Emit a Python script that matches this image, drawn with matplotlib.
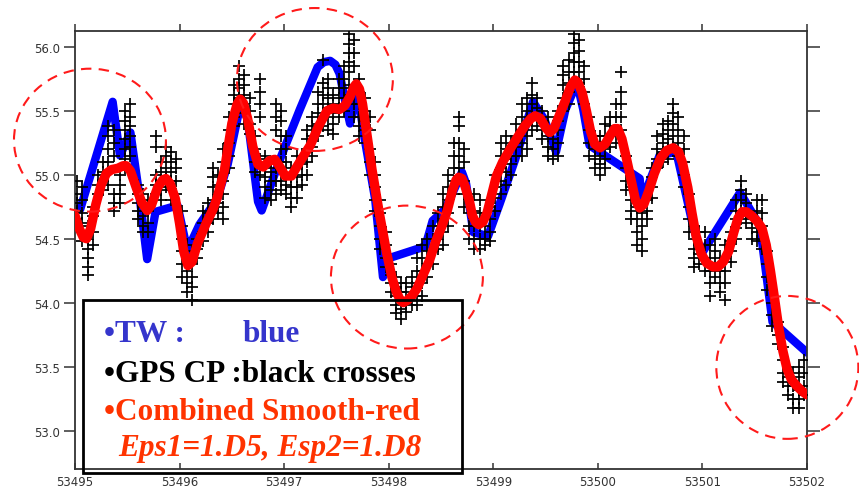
import numpy as np
import matplotlib.pyplot as plt
from matplotlib.patches import Ellipse, Rectangle

# TW series (blue)
tw_x = [53495.05, 53495.36, 53495.43, 53495.53, 53495.62, 53495.69, 53495.77, 53495.94,
        53495.98, 53496.05, 53496.07, 53496.19, 53496.36, 53496.46, 53496.58, 53496.65,
        53496.75, 53496.785, 53496.96, 53497.15, 53497.32, 53497.38, 53497.44, 53497.49,
        53497.53, 53497.58, 53497.63, 53497.70, 53497.77, 53497.87, 53497.945, 53498.01,
        53498.35, 53498.42, 53498.54, 53498.70, 53498.74, 53498.81, 53498.95, 53499.06,
        53499.21, 53499.38, 53499.49, 53499.60, 53499.69, 53499.80, 53499.86, 53499.92,
        53500.40, 53500.42, 53500.59, 53500.75, 53500.91, 53500.99, 53501.36, 53501.55,
        53501.67, 53502.0]
tw_y = [54.73, 55.57, 55.15, 55.33, 54.81, 54.34, 54.71, 54.75,
        54.76, 54.50, 54.40, 54.61, 54.81, 55.08, 55.54, 55.44,
        54.79, 54.72, 55.12, 55.51, 55.84, 55.88, 55.89, 55.86,
        55.79, 55.59, 55.40, 55.65, 55.28, 54.81, 54.20, 54.35,
        54.44, 54.64, 54.73, 55.02, 54.93, 54.55, 54.52, 54.77,
        55.12, 55.57, 55.43, 55.18, 55.51, 55.72, 55.51, 55.23,
        54.97, 54.79, 55.15, 55.18, 54.60, 54.38, 54.86, 54.60,
        53.85, 53.61]

# combined smooth (red)
cs_x = [53495.00, 53495.04, 53495.08, 53495.11, 53495.15, 53495.20, 53495.25, 53495.30,
        53495.35, 53495.41, 53495.46, 53495.49, 53495.53, 53495.59, 53495.64, 53495.69,
        53495.73, 53495.79, 53495.84, 53495.87, 53495.91, 53495.96, 53496.00, 53496.04,
        53496.08, 53496.12, 53496.17, 53496.26, 53496.32, 53496.36, 53496.43, 53496.50,
        53496.55, 53496.58, 53496.61, 53496.65, 53496.70, 53496.75, 53496.80, 53496.86,
        53496.91, 53496.96, 53497.01, 53497.07, 53497.12, 53497.18, 53497.25, 53497.33,
        53497.41, 53497.47, 53497.53, 53497.58, 53497.63, 53497.67, 53497.69, 53497.72,
        53497.75, 53497.80, 53497.84, 53497.91, 53497.98, 53498.03, 53498.07, 53498.11,
        53498.14, 53498.18, 53498.22, 53498.27, 53498.33, 53498.39, 53498.45, 53498.51,
        53498.56, 53498.61, 53498.645, 53498.67, 53498.70, 53498.73, 53498.77, 53498.80,
        53498.83, 53498.86, 53498.90, 53498.94, 53498.98, 53499.03, 53499.09, 53499.16,
        53499.23, 53499.30, 53499.36, 53499.40, 53499.45, 53499.50, 53499.54, 53499.58,
        53499.63, 53499.69, 53499.74, 53499.78, 53499.81, 53499.85, 53499.89, 53499.93,
        53499.97, 53500.02, 53500.07, 53500.12, 53500.16, 53500.19, 53500.23, 53500.27,
        53500.32, 53500.36, 53500.40, 53500.44, 53500.49, 53500.54, 53500.60, 53500.66,
        53500.72, 53500.77, 53500.81, 53500.86, 53500.90, 53500.94, 53500.99, 53501.04,
        53501.10, 53501.15, 53501.20, 53501.25, 53501.30, 53501.34, 53501.38, 53501.42,
        53501.47, 53501.52, 53501.57, 53501.61, 53501.65, 53501.69, 53501.73, 53501.77,
        53501.81, 53501.85, 53501.90, 53501.95, 53502.00]
cs_y = [54.68, 54.58, 54.51, 54.50, 54.58, 54.77, 54.92, 55.01,
        55.04, 55.05, 55.07, 55.07, 55.03, 54.89, 54.78, 54.72,
        54.76, 54.90, 54.96, 54.97, 54.93, 54.81, 54.62, 54.40,
        54.29, 54.32, 54.46, 54.63, 54.73, 54.82, 55.04, 55.40,
        55.55, 55.59, 55.56, 55.44, 55.22, 55.08, 55.06, 55.11,
        55.12, 55.06, 54.99, 54.99, 55.06, 55.14, 55.23, 55.38,
        55.50, 55.52, 55.51, 55.54, 55.61, 55.69, 55.71, 55.67,
        55.55, 55.27, 55.04, 54.70, 54.39, 54.20, 54.09, 54.02,
        54.00, 54.02, 54.05, 54.11, 54.22, 54.33, 54.48, 54.60,
        54.72, 54.88, 54.96, 54.98, 54.97, 54.91, 54.80, 54.68,
        54.63, 54.61, 54.63, 54.70, 54.83, 54.99, 55.10, 55.20,
        55.29, 55.38, 55.44, 55.46, 55.44, 55.37, 55.33, 55.36,
        55.46, 55.58, 55.69, 55.74, 55.72, 55.64, 55.50, 55.34,
        55.24, 55.21, 55.24, 55.31, 55.36, 55.36, 55.28, 55.14,
        54.95, 54.80, 54.74, 54.77, 54.88, 55.01, 55.13, 55.19,
        55.21, 55.18, 55.09, 54.90, 54.70, 54.52, 54.38, 54.31,
        54.28, 54.28, 54.32, 54.40, 54.55, 54.66, 54.71, 54.71,
        54.68, 54.64, 54.58, 54.45, 54.25, 54.03, 53.80, 53.62,
        53.48, 53.40, 53.35, 53.31, 53.28]

# GPS CP points (black crosses), grouped by epoch
gps_x = [53495.02, 53495.07, 53495.12, 53495.17, 53495.22, 53495.27, 53495.32, 53495.37,
         53495.43, 53495.48, 53495.53, 53495.60, 53495.65, 53495.70, 53495.77, 53495.82,
         53495.87, 53495.92, 53495.97, 53496.02, 53496.07, 53496.12, 53496.17, 53496.22,
         53496.27, 53496.32, 53496.37, 53496.42, 53496.47, 53496.52, 53496.57, 53496.62,
         53496.67, 53496.72, 53496.77, 53496.82, 53496.87, 53496.92, 53496.97, 53497.02,
         53497.07, 53497.12, 53497.17, 53497.22, 53497.27, 53497.32, 53497.37, 53497.42,
         53497.47, 53497.52, 53497.57, 53497.62, 53497.67, 53497.72, 53497.77, 53497.82,
         53497.87, 53497.92, 53497.97, 53498.02, 53498.07, 53498.12, 53498.17, 53498.22,
         53498.27, 53498.32, 53498.37, 53498.42, 53498.47, 53498.52, 53498.57, 53498.62,
         53498.67, 53498.72, 53498.77, 53498.82, 53498.87, 53498.92, 53498.97, 53499.02,
         53499.07, 53499.12, 53499.17, 53499.22, 53499.27, 53499.32, 53499.37, 53499.42,
         53499.47, 53499.52, 53499.57, 53499.62, 53499.67, 53499.72, 53499.77, 53499.82,
         53499.87, 53499.92, 53499.97, 53500.02, 53500.07, 53500.12, 53500.17, 53500.22,
         53500.27, 53500.32, 53500.37, 53500.42, 53500.47, 53500.52, 53500.57, 53500.62,
         53500.67, 53500.72, 53500.77, 53500.82, 53500.87, 53500.92, 53500.97, 53501.02,
         53501.07, 53501.12, 53501.17, 53501.22, 53501.27, 53501.32, 53501.37, 53501.42,
         53501.47, 53501.52, 53501.57, 53501.62, 53501.67, 53501.72, 53501.77, 53501.82,
         53501.87, 53501.92, 53501.97]
gps_y = [
    [54.95, 54.85, 54.78, 54.72, 54.65, 54.6], [54.9, 54.8, 54.7, 54.62, 54.55, 54.48],
    [54.6, 54.5, 54.42, 54.35, 54.28, 54.22], [54.75, 54.68, 54.55, 54.45],
    [55.0, 54.92, 54.85], [55.1, 55.02, 54.95, 54.88],
    [55.38, 55.3, 55.2, 55.1, 55.02, 54.92], [55.35, 55.25, 55.15, 54.85, 54.78, 54.72],
    [55.0, 54.92, 54.85, 54.78], [55.5, 55.42, 55.35, 55.28, 55.2, 55.12, 55.05],
    [55.55, 55.45, 55.38, 55.3, 55.22, 55.15], [54.92, 54.85, 54.78, 54.72, 54.65],
    [54.85, 54.75, 54.68, 54.6, 54.55], [54.8, 54.72, 54.62, 54.55],
    [55.3, 55.22, 55.0, 54.92, 54.85], [55.1, 55.02, 54.95, 54.88, 54.8],
    [55.22, 55.15, 55.05, 54.98, 54.9], [55.18, 55.1, 55.02, 54.95, 54.88, 54.8],
    [55.12, 55.05, 54.95, 54.85], [54.72, 54.6, 54.5, 54.4, 54.3, 54.2],
    [54.45, 54.35, 54.25, 54.15, 54.08], [54.4, 54.3, 54.2, 54.12, 54.02],
    [54.5, 54.42, 54.35], [54.72, 54.62, 54.55, 54.48],
    [54.78, 54.7, 54.62, 54.55], [55.05, 54.98, 54.9, 54.8, 54.72, 54.65],
    [55.0, 54.92, 54.85, 54.78, 54.7], [55.2, 55.1, 54.95, 54.85, 54.75, 54.65],
    [55.45, 55.35, 55.25, 55.15, 55.05], [55.7, 55.62, 55.55, 55.45, 55.38],
    [55.85, 55.75, 55.68, 55.6, 55.52], [55.78, 55.7, 55.62, 55.55, 55.48, 55.4],
    [55.6, 55.5, 55.4, 55.32], [55.3, 55.2, 55.1, 55.02],
    [55.75, 55.65, 55.55, 55.45, 55.12, 55.0], [55.15, 55.05, 54.98, 54.9, 54.82],
    [55.1, 55.02, 54.95, 54.88, 54.8], [55.55, 55.45, 55.35, 55.05, 54.95, 54.85],
    [55.5, 55.42, 55.3, 55.2, 55.1, 54.95, 54.88], [55.3, 55.2, 55.1, 55.0, 54.92, 54.85],
    [55.05, 54.98, 54.9, 54.82, 54.75], [55.15, 55.05, 54.98, 54.9, 54.82],
    [55.15, 55.08, 55.0, 54.92], [55.35, 55.28, 55.2, 55.1, 55.0],
    [55.45, 55.38, 55.3, 55.22, 55.15], [55.65, 55.55, 55.48, 55.4, 55.3],
    [55.9, 55.72, 55.62, 55.55, 55.45, 55.38], [55.75, 55.68, 55.6, 55.52, 55.45, 55.35],
    [55.62, 55.55, 55.48, 55.4, 55.32], [55.75, 55.68, 55.6, 55.52, 55.45],
    [55.85, 55.75, 55.68, 55.6, 55.5], [56.1, 56.02, 55.95, 55.88, 55.8, 55.7, 55.62],
    [56.05, 55.95, 55.85, 55.65, 55.55, 55.45], [55.75, 55.65, 55.55, 55.45, 55.38, 55.3],
    [55.6, 55.5, 55.42, 55.35, 55.25], [55.45, 55.35, 55.2, 55.1, 55.0],
    [55.1, 55.0, 54.9, 54.8, 54.72], [54.8, 54.7, 54.6, 54.5, 54.42],
    [54.55, 54.45, 54.35, 54.28], [54.3, 54.22, 54.15, 54.08],
    [54.2, 54.12, 54.05, 53.98, 53.92], [54.15, 54.08, 54.02, 53.95, 53.87],
    [54.15, 54.08, 54.0, 53.93], [54.2, 54.12, 54.05, 53.98],
    [54.35, 54.25, 54.15, 54.05, 53.98], [54.45, 54.35, 54.25, 54.15, 54.05],
    [54.5, 54.4, 54.3, 54.2], [54.6, 54.5, 54.4, 54.3],
    [54.7, 54.6, 54.5, 54.42], [54.85, 54.75, 54.65, 54.55, 54.45],
    [55.0, 54.9, 54.8, 54.7, 54.6], [55.25, 55.15, 55.05, 54.95, 54.85],
    [55.45, 55.38, 55.25, 55.15, 55.05], [55.2, 55.1, 54.95, 54.85, 54.75],
    [54.8, 54.7, 54.6, 54.5], [54.85, 54.72, 54.6, 54.5, 54.42],
    [54.8, 54.7, 54.6, 54.5, 54.42], [54.7, 54.6, 54.5, 54.45],
    [54.75, 54.65, 54.55, 54.48], [55.0, 54.9, 54.82, 54.72],
    [55.25, 55.15, 55.05, 54.95, 54.85], [55.3, 55.2, 55.12, 55.02, 54.92],
    [55.25, 55.15, 55.08, 55.0], [55.4, 55.3, 55.22, 55.15],
    [55.55, 55.45, 55.35, 55.25, 55.15], [55.6, 55.5, 55.4, 55.3, 55.2],
    [55.72, 55.62, 55.55, 55.45, 55.35], [55.6, 55.52, 55.45, 55.38],
    [55.5, 55.42, 55.35, 55.28], [55.45, 55.38, 55.3, 55.22, 55.15],
    [55.35, 55.28, 55.2, 55.12], [55.5, 55.42, 55.35, 55.25, 55.15],
    [55.85, 55.78, 55.7, 55.6, 55.5], [55.9, 55.8, 55.72, 55.65, 55.55],
    [56.1, 56.03, 55.95, 55.88, 55.8], [56.05, 55.97, 55.88, 55.8, 55.72],
    [55.85, 55.75, 55.65, 55.55], [55.45, 55.35, 55.25, 55.15],
    [55.3, 55.2, 55.12, 55.05], [55.3, 55.22, 55.15, 55.08, 55.0],
    [55.4, 55.3, 55.2, 55.12, 55.05], [55.45, 55.38, 55.3, 55.22],
    [55.55, 55.45, 55.35, 55.25], [55.8, 55.65, 55.55, 55.45, 55.35],
    [55.15, 55.05, 54.95, 54.88], [54.9, 54.8, 54.72, 54.65],
    [54.75, 54.65, 54.55, 54.45], [54.7, 54.6, 54.5, 54.4],
    [54.8, 54.72, 54.65], [55.05, 54.98, 54.9, 54.82],
    [55.3, 55.2, 55.12, 55.05], [55.4, 55.32, 55.25, 55.18, 55.1],
    [55.42, 55.35, 55.28, 55.2, 55.12], [55.55, 55.48, 55.4, 55.3, 55.22],
    [55.45, 55.35, 55.25, 55.15], [55.3, 55.2, 55.1, 55.0, 54.9],
    [54.85, 54.75, 54.65, 54.55], [54.6, 54.5, 54.42, 54.35, 54.28],
    [54.55, 54.45, 54.38, 54.3], [54.55, 54.45, 54.35, 54.25],
    [54.45, 54.35, 54.25, 54.15, 54.05], [54.5, 54.4, 54.3, 54.2],
    [54.35, 54.25, 54.15, 54.08], [54.45, 54.35, 54.25, 54.15, 54.02],
    [54.55, 54.48, 54.4, 54.32], [54.8, 54.72, 54.65, 54.58, 54.5],
    [54.95, 54.88, 54.8, 54.72, 54.65], [54.85, 54.78, 54.7, 54.62],
    [54.65, 54.58, 54.5], [54.8, 54.72, 54.65, 54.55, 54.48],
    [54.8, 54.7, 54.6, 54.5, 54.42], [54.4, 54.3, 54.2, 54.1],
    [54.0, 53.9, 53.82], [53.85, 53.75, 53.68],
    [53.65, 53.55, 53.45, 53.38], [53.5, 53.42, 53.35, 53.28],
    [53.45, 53.35, 53.25, 53.18], [53.5, 53.42, 53.32, 53.25, 53.18],
    [53.55, 53.45, 53.35, 53.28],
]

x_ticks = [53495, 53496, 53497, 53498, 53499, 53500, 53501, 53502]
y_ticks = [53.0, 53.5, 54.0, 54.5, 55.0, 55.5, 56.0]

# dashed circles: centre x, centre y, width (days), height
circles = [(53495.143, 55.27, 1.453, 1.117),
           (53497.294, 55.744, 1.491, 1.117),
           (53498.174, 54.20, 1.453, 1.117),
           (53501.812, 53.494, 1.358, 1.117)]

fig = plt.figure(figsize=(8.59, 4.89), dpi=100)
ax = fig.add_axes([75 / 859, 1 - 470 / 489, 732 / 859, 438 / 489])

px, py = [], []
for x, ys in zip(gps_x, gps_y):
    for y in ys:
        px.append(x)
        py.append(y)

ax.plot(tw_x, tw_y, color='#0000ff', lw=6, solid_joinstyle='round', solid_capstyle='round', zorder=2)
ax.plot(px, py, ls='none', marker='+', ms=9, mew=1.25, color='black', zorder=3)
ax.plot(cs_x, cs_y, color='#ff0000', lw=6.8, solid_joinstyle='round', solid_capstyle='round', zorder=4)

for cx, cy, w, h in circles:
    ax.add_patch(Ellipse((cx, cy), w, h, fill=False, ec='#ff1a1a', lw=1.5,
                         ls=(0, (5, 3.5)), clip_on=False, zorder=5))

ax.set_xlim(53495, 53502)
ax.set_ylim(52.70, 56.123)
ax.set_xticks(x_ticks)
ax.set_xticklabels([str(t) for t in x_ticks])
ax.set_yticks(y_ticks)
ax.set_yticklabels([f'{t:.1f}' for t in y_ticks])

for s in ax.spines.values():
    s.set_color('#333333')
    s.set_linewidth(1.3)
ax.tick_params(axis='x', bottom=True, top=True, direction='in', length=4, width=1.1,
               colors='#333333', labelsize=8.5, pad=4)
for t in ax.xaxis.get_major_ticks():
    t.tick2line.set_marker(2)
    t.tick2line.set_markersize(5)
ax.tick_params(axis='y', left=True, right=True, direction='out', length=8, width=1.1,
               colors='#333333', labelsize=8.5, pad=3)
for t in ax.yaxis.get_major_ticks():
    t.tick2line.set_markersize(9)

# legend box
fig.patches.append(Rectangle((83 / 859, 1 - 474 / 489), 379 / 859, 173 / 489,
                             transform=fig.transFigure, fill=False, ec='black', lw=2, zorder=6))
serif = ['Liberation Serif', 'DejaVu Serif']
fig.text(104 / 859, 1 - 342 / 489, '\u2022TW :', color='#3535cc', fontsize=22.5,
         fontweight='bold', family=serif, va='baseline')
fig.text(243 / 859, 1 - 342 / 489, 'blue', color='#3535cc', fontsize=22.5,
         fontweight='bold', family=serif, va='baseline')
fig.text(104 / 859, 1 - 382 / 489, '\u2022GPS CP :black crosses', color='black', fontsize=22.5,
         fontweight='bold', family=serif, va='baseline')
fig.text(104 / 859, 1 - 420 / 489, '\u2022Combined Smooth-red', color='#ff3300', fontsize=22.5,
         fontweight='bold', family=serif, va='baseline')
fig.text(118 / 859, 1 - 456 / 489, 'Eps1=1.D5, Esp2=1.D8', color='#ff3300', fontsize=22.5,
         fontweight='bold', style='italic', family=serif, va='baseline')

fig.savefig('out.png', dpi=100)
